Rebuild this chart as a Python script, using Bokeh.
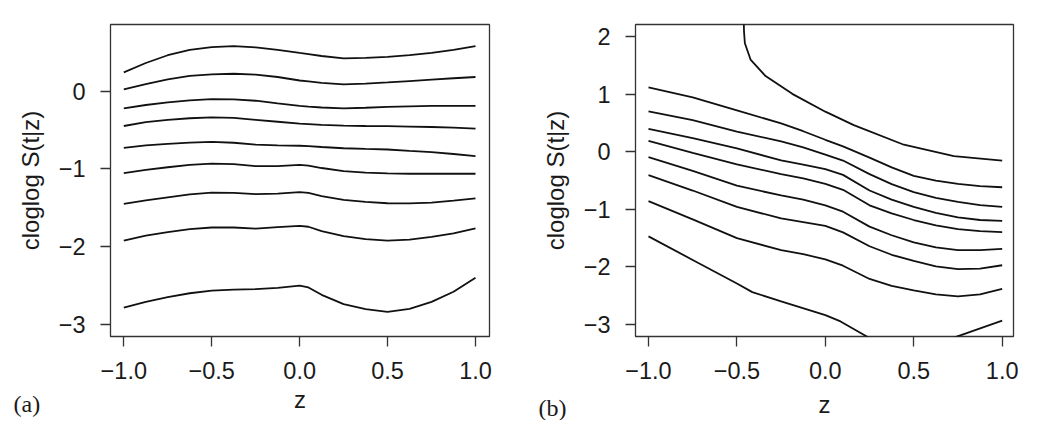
from bokeh.plotting import figure
from bokeh.layouts import row
from bokeh.models import Range1d, FixedTicker, Label
from bokeh.embed import file_html
from bokeh.resources import INLINE

# ---------------- data: panel (a) ----------------
xa = [-1.0, -0.875, -0.75, -0.625, -0.5, -0.375, -0.25, -0.125, 0.0, 0.05,
      0.125, 0.25, 0.375, 0.5, 0.625, 0.75, 0.875, 1.0]
a_curves = [
    [0.24, 0.36, 0.46, 0.53, 0.565, 0.578, 0.56, 0.53, 0.49, 0.475, 0.45, 0.42, 0.425, 0.44, 0.46, 0.49, 0.53, 0.577],
    [0.02, 0.09, 0.15, 0.195, 0.215, 0.222, 0.21, 0.18, 0.135, 0.125, 0.105, 0.084, 0.095, 0.11, 0.128, 0.147, 0.164, 0.18],
    [-0.223, -0.18, -0.147, -0.12, -0.105, -0.107, -0.125, -0.16, -0.19, -0.2, -0.212, -0.223, -0.215, -0.205, -0.197, -0.192, -0.19, -0.19],
    [-0.45, -0.4, -0.37, -0.35, -0.34, -0.345, -0.37, -0.395, -0.42, -0.425, -0.435, -0.446, -0.45, -0.452, -0.457, -0.463, -0.472, -0.484],
    [-0.73, -0.7, -0.68, -0.663, -0.654, -0.665, -0.69, -0.7, -0.704, -0.708, -0.72, -0.736, -0.745, -0.752, -0.77, -0.787, -0.81, -0.836],
    [-1.055, -1.015, -0.98, -0.95, -0.934, -0.94, -0.965, -0.966, -0.95, -0.96, -0.99, -1.03, -1.05, -1.06, -1.064, -1.064, -1.064, -1.064],
    [-1.452, -1.405, -1.367, -1.33, -1.306, -1.31, -1.325, -1.32, -1.30, -1.31, -1.35, -1.40, -1.425, -1.443, -1.445, -1.435, -1.41, -1.38],
    [-1.923, -1.86, -1.813, -1.775, -1.755, -1.755, -1.77, -1.75, -1.734, -1.745, -1.8, -1.865, -1.905, -1.923, -1.91, -1.875, -1.83, -1.767],
    [-2.786, -2.71, -2.65, -2.6, -2.567, -2.553, -2.546, -2.53, -2.502, -2.525, -2.62, -2.74, -2.805, -2.84, -2.8, -2.71, -2.58, -2.40],
]

# ---------------- data: panel (b) ----------------
b_x0 = [-0.462, -0.46, -0.455, -0.423, -0.338, -0.187, 0.0, 0.161, 0.444, 0.727, 1.0]
b_y0 = [2.4, 2.1, 1.89, 1.607, 1.32, 1.01, 0.7, 0.467, 0.125, -0.074, -0.15]
xb = [-1.0, -0.75, -0.5, -0.25, -0.125, 0.0, 0.1, 0.25, 0.375, 0.5, 0.625, 0.75, 0.875, 1.0]
b_curves = [
    [1.123, 0.95, 0.724, 0.496, 0.36, 0.211, 0.097, -0.1, -0.27, -0.416, -0.5, -0.558, -0.595, -0.615],
    [0.707, 0.553, 0.353, 0.182, 0.08, -0.046, -0.15, -0.387, -0.56, -0.7, -0.8, -0.87, -0.925, -0.957],
    [0.4, 0.24, 0.06, -0.148, -0.22, -0.3, -0.4, -0.672, -0.83, -0.957, -1.06, -1.14, -1.185, -1.2],
    [0.194, -0.017, -0.217, -0.387, -0.46, -0.558, -0.66, -0.929, -1.07, -1.185, -1.28, -1.345, -1.38, -1.396],
    [-0.091, -0.33, -0.587, -0.758, -0.83, -0.929, -1.04, -1.3, -1.45, -1.573, -1.66, -1.709, -1.71, -1.687],
    [-0.405, -0.672, -0.957, -1.157, -1.22, -1.288, -1.4, -1.641, -1.79, -1.897, -1.99, -2.04, -2.03, -1.972],
    [-0.855, -1.175, -1.5, -1.71, -1.78, -1.869, -1.98, -2.211, -2.33, -2.41, -2.48, -2.513, -2.48, -2.382],
]
b_x8 = [-1.0, -0.75, -0.5, -0.413, -0.25, 0.0, 0.086, 0.227, 0.3]
b_y8 = [-1.47, -1.88, -2.29, -2.44, -2.6, -2.84, -2.95, -3.2, -3.33]
b_x9 = [0.6, 0.755, 1.0]
b_y9 = [-3.37, -3.2, -2.935]

x_ticks = [-1.0, -0.5, 0.0, 0.5, 1.0]
x_tick_labels = ["\u22121.0", "\u22120.5", "0.0", "0.5", "1.0"]
a_y_ticks = [-3, -2, -1, 0]
a_y_tick_labels = ["\u22123", "\u22122", "\u22121", "0"]
b_y_ticks = [-3, -2, -1, 0, 1, 2]
b_y_tick_labels = ["\u22123", "\u22122", "\u22121", "0", "1", "2"]
panel_tags = ["(a)", "(b)"]

FONT = "Liberation Sans"
TXT = "#1a1a1a"
LW = 1.8


def style(p, yticks, ylabels, zstand):
    p.outline_line_color = "#333333"
    p.outline_line_width = 1.3
    p.grid.visible = False
    p.background_fill_color = "white"
    p.border_fill_color = "white"
    p.xaxis.ticker = FixedTicker(ticks=x_ticks)
    p.xaxis.major_label_overrides = dict(zip(x_ticks, x_tick_labels))
    p.yaxis.ticker = FixedTicker(ticks=yticks)
    p.yaxis.major_label_overrides = dict(zip(yticks, ylabels))
    for ax in (p.xaxis[0], p.yaxis[0]):
        ax.axis_line_color = None
        ax.major_tick_line_color = "#333333"
        ax.major_tick_line_width = 1.3
        ax.major_tick_out = 10
        ax.major_tick_in = 0
        ax.minor_tick_line_color = None
        ax.major_label_text_font = FONT
        ax.major_label_text_font_size = "23.5px"
        ax.major_label_text_color = TXT
        ax.axis_label_text_font = FONT
        ax.axis_label_text_font_size = "24px"
        ax.axis_label_text_font_style = "normal"
        ax.axis_label_text_color = TXT
    p.xaxis.major_label_standoff = 15
    p.xaxis.axis_label_standoff = zstand
    p.yaxis.major_label_standoff = 15
    p.yaxis.axis_label_standoff = 12
    p.xaxis.axis_label = "z"
    p.yaxis.axis_label = "cloglog S(t|z)"


pa = figure(width=530, height=420, output_backend="svg", toolbar_location=None,
            x_range=Range1d(-1.0756, 1.0796), y_range=Range1d(-3.156, 0.855),
            min_border_left=110, min_border_right=41, min_border_top=24,
            min_border_bottom=78)
style(pa, a_y_ticks, a_y_tick_labels, 4)
for ys in a_curves:
    pa.line(xa, ys, line_color="#111111", line_width=LW)
pa.add_layout(Label(x=13, y=403, x_units="canvas", y_units="canvas", text=panel_tags[0],
                    text_font="Liberation Serif", text_font_size="24px",
                    text_color=TXT, text_baseline="middle", text_align="left"), "right")

pb = figure(width=520, height=420, output_backend="svg", toolbar_location=None,
            x_range=Range1d(-1.0735, 1.064), y_range=Range1d(-3.212, 2.217),
            min_border_left=105, min_border_right=37, min_border_top=24,
            min_border_bottom=78)
style(pb, b_y_ticks, b_y_tick_labels, 9)
pb.line(b_x0, b_y0, line_color="#111111", line_width=LW)
for ys in b_curves:
    pb.line(xb, ys, line_color="#111111", line_width=LW)
pb.line(b_x8, b_y8, line_color="#111111", line_width=LW)
pb.line(b_x9, b_y9, line_color="#111111", line_width=LW)
pb.add_layout(Label(x=8, y=407, x_units="canvas", y_units="canvas", text=panel_tags[1],
                    text_font="Liberation Serif", text_font_size="24px",
                    text_color=TXT, text_baseline="middle", text_align="left"), "right")

layout = row(pa, pb)
open("out.html", "w").write(file_html(layout, INLINE))
